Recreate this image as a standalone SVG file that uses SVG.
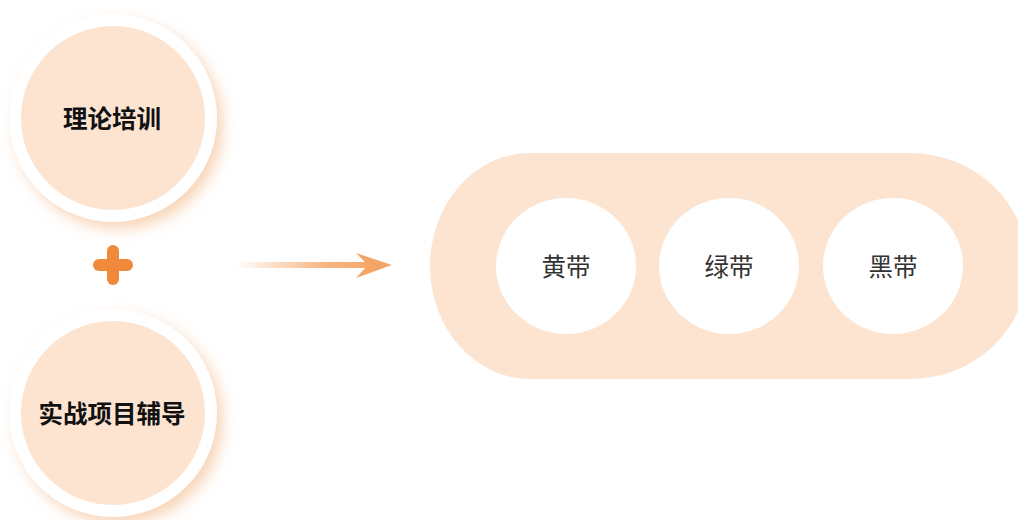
<svg xmlns="http://www.w3.org/2000/svg" width="1018" height="520" viewBox="0 0 1018 520">
<style>
.peach{fill:#FCE4D1}
.ring{fill:#FFFFFF}
.lbl{font-family:"Noto Sans CJK SC","Noto Sans",sans-serif;font-size:24.5px;font-weight:bold;fill:#111111;text-anchor:middle;dominant-baseline:central}
.belt{font-family:"Noto Sans CJK SC","Noto Sans",sans-serif;font-size:24.5px;fill:#333333;text-anchor:middle;dominant-baseline:central}
</style>
<defs>
<filter id="sh" x="-30%" y="-30%" width="160%" height="160%">
<feGaussianBlur in="SourceAlpha" stdDeviation="7"/>
<feOffset dx="6" dy="7" result="b"/>
<feFlood flood-color="#F6C7A0" flood-opacity="0.75"/>
<feComposite in2="b" operator="in"/>
<feMerge><feMergeNode/><feMergeNode in="SourceGraphic"/></feMerge>
</filter>
<linearGradient id="ag" x1="235" y1="0" x2="392" y2="0" gradientUnits="userSpaceOnUse">
<stop offset="0" stop-color="#F4A566" stop-opacity="0"/>
<stop offset="0.6" stop-color="#F4A566" stop-opacity="0.85"/>
<stop offset="1" stop-color="#F4A566"/>
</linearGradient>
</defs>
<g id="node-theory">
<circle cx="113" cy="118" r="104" class="ring" filter="url(#sh)"/>
<circle cx="113" cy="118" r="92" class="peach"/>
<text x="112" y="117" class="lbl">理论培训</text>
</g>
<g id="plus">
<rect x="93" y="259" width="40" height="12" rx="6" fill="#F08A3A"/>
<rect x="107" y="245" width="12" height="40" rx="6" fill="#F08A3A"/>
</g>
<g id="node-project">
<circle cx="113" cy="413" r="104" class="ring" filter="url(#sh)"/>
<circle cx="113" cy="413" r="92" class="peach"/>
<text x="112" y="412" class="lbl">实战项目辅导</text>
</g>
<g id="connectors">
<path d="M235 262 H368 V268 H235 Z" fill="url(#ag)"/>
<path d="M356 253 L392 265 L356 278 L368 265 Z" fill="#F4A566"/>
</g>
<g id="belts">
<path d="M530 153 H910 A118 113 0 0 1 910 379 H530 A100 113 0 0 1 530 153 Z" class="peach"/>
<g id="node-yellow">
<ellipse cx="566" cy="266" rx="70" ry="68" fill="#FFFFFF"/>
<text x="566" y="265" class="belt">黄带</text>
</g>
<g id="node-green">
<ellipse cx="729" cy="266" rx="70" ry="68" fill="#FFFFFF"/>
<text x="729" y="265" class="belt">绿带</text>
</g>
<g id="node-black">
<ellipse cx="893" cy="266" rx="70" ry="68" fill="#FFFFFF"/>
<text x="893" y="265" class="belt">黑带</text>
</g>
</g>
</svg>
